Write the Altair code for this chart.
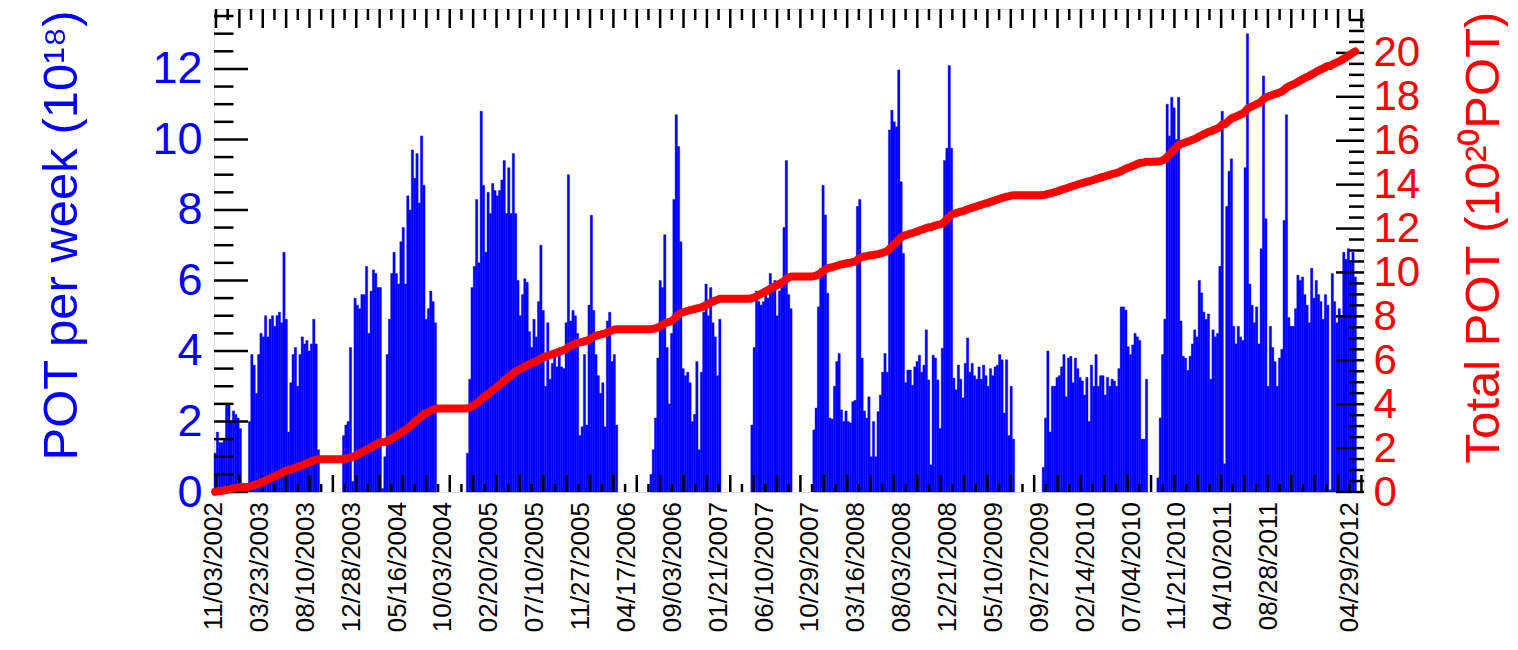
import altair as alt
import numpy as np
import pandas as pd

# ---------------- data ----------------
# x-axis tick labels: week index (from 11/03/2002) and the date text
label_weeks = [0, 20, 40, 60, 80, 100, 120, 140, 160, 180, 200, 220, 240,
               260, 280, 300, 320, 340, 360, 380, 400, 420, 440, 460, 495]
label_dates = ["11/03/2002", "03/23/2003", "08/10/2003", "12/28/2003",
               "05/16/2004", "10/03/2004", "02/20/2005", "07/10/2005",
               "11/27/2005", "04/17/2006", "09/03/2006", "01/21/2007",
               "06/10/2007", "10/29/2007", "03/16/2008", "08/03/2008",
               "12/21/2008", "05/10/2009", "09/27/2009", "02/14/2010",
               "07/04/2010", "11/21/2010", "04/10/2011", "08/28/2011",
               "04/29/2012"]

left_ticks = [0, 2, 4, 6, 8, 10, 12]
right_ticks = [0, 2, 4, 6, 8, 10, 12, 14, 16, 18, 20]

# weekly POT (1e18) for each running period: first week index + values
run_starts = [0, 15, 56, 75, 110, 190, 234, 261, 361, 411]
run01 = [1.1, 1.7, 1.4, 1.4, 1.5, 2.5, 2.5, 2.0, 2.3, 2.2, 2.1, 1.8]
run02 = [2.0, 3.9, 3.6, 2.8, 3.9, 4.5, 4.4, 5.0, 4.4, 4.9, 5.0, 4.7, 5.0, 5.1,
         4.8, 6.8, 4.9, 1.7, 3.1, 3.9, 4.1, 3.0, 3.9, 4.4, 4.2, 4.3, 4.0, 4.2,
         4.9, 4.2, 1.2]
run03 = [1.6, 1.9, 2.0, 4.1, 0.3, 5.5, 5.3, 5.2, 5.6, 5.6, 6.4, 4.5, 5.7, 6.3,
         6.2, 5.8, 5.8, 0.1, 1.0]
run04 = [3.9, 4.9, 6.2, 6.8, 6.2, 5.9, 7.1, 7.5, 5.9, 8.4, 8.0, 9.7, 8.9, 9.6,
         8.2, 10.1, 8.7, 4.9, 5.2, 5.7, 5.4, 4.8]
run05 = [1.1, 3.2, 5.8, 6.4, 8.3, 6.5, 10.8, 8.7, 6.8, 8.5,
         7.9, 8.75, 8.55, 8.4, 8.55, 8.85, 9.4, 7.9, 9.2, 7.9,
         9.6, 7.9, 6.0, 5.0, 5.6, 6.05, 5.95, 4.55, 4.1, 4.9,
         4.4, 5.4, 7.0, 5.15, 3.0, 4.8, 3.2, 3.65, 4.0, 3.55,
         3.9, 3.55, 3.5, 4.8, 9.0, 4.85, 5.15, 5.0, 4.5, 1.6,
         1.85, 3.9, 1.9, 5.3, 7.85, 5.15, 3.9, 3.3, 2.8, 3.1,
         1.85, 4.85, 5.1, 3.7, 3.9, 1.9]
run06 = [0.5, 1.2, 2.1, 3.8, 6.0, 5.8, 7.3, 4.1, 2.5, 4.5, 8.3, 10.7, 9.8,
         7.1, 3.5, 3.3, 3.4, 3.1, 2.0, 2.2, 3.7, 1.2, 3.4, 5.1, 5.9, 5.0,
         5.8, 4.8, 4.4, 3.3, 4.9]
run07 = [1.9, 4.1, 5.7, 5.4, 5.3, 5.4, 5.6, 5.5, 6.2, 5.9, 6.0, 5.0, 5.7,
         5.8, 7.5, 9.4, 5.6, 5.2]
run08 = [1.76, 2.38, 5.25, 6.35, 8.7, 7.86, 5.64, 2.1, 2.07, 3.0,
         3.7, 3.93, 2.33, 2.0, 2.3, 2.0, 1.96, 2.56, 2.6, 8.1,
         8.3, 3.8, 2.3, 2.1, 2.7, 1.0, 2.0, 1.0, 2.28, 2.75,
         3.4, 3.93, 3.4, 10.27, 10.83, 10.5, 10.36, 11.97, 8.8, 6.77,
         3.1, 3.46, 3.46, 3.03, 3.55, 3.7, 3.88, 3.4, 3.6, 4.6,
         3.18, 0.77, 3.88, 3.8, 3.18, 1.8, 4.08, 9.4, 9.75, 12.1,
         9.75, 3.23, 2.9, 3.6, 3.2, 2.67, 3.65, 4.37, 3.4, 3.65,
         3.3, 3.2, 3.55, 3.2, 3.6, 3.3, 3.0, 3.5, 3.3, 3.55,
         3.6, 3.9, 3.75, 2.24, 3.75, 1.6, 3.0, 1.5]
run09 = [0.7, 2.1, 4.0, 1.7, 3.0, 3.0, 3.25, 3.3, 3.55, 3.9,
         2.7, 3.8, 3.85, 3.1, 3.8, 3.5, 3.25, 3.15, 2.75, 3.25,
         2.0, 3.6, 3.0, 3.9, 3.0, 3.3, 3.3, 2.75, 3.25, 3.0,
         3.2, 3.15, 3.0, 3.5, 5.25, 5.25, 5.16, 4.12, 3.9, 4.17,
         4.5, 4.4, 4.3, 1.5, 1.5, 3.2]
run10 = [0.4, 2.1, 3.9, 4.9, 11.0, 10.1, 11.2, 10.9, 10.0, 11.2,
         4.85, 3.85, 3.8, 3.45, 3.85, 4.2, 4.6, 4.4, 6.0, 5.65,
         5.1, 4.9, 5.05, 3.2, 4.6, 4.4, 4.5, 6.4, 10.8, 0.8,
         8.1, 9.1, 9.45, 4.7, 4.2, 4.7, 4.4, 4.3, 9.2, 13.0,
         5.9, 5.3, 4.8, 5.25, 4.2, 6.9, 11.8, 7.75, 3.0, 4.7,
         4.1, 3.7, 3.0, 3.8, 4.05, 7.7, 10.7, 4.95, 4.7, 4.7,
         5.2, 6.15, 6.0, 6.1, 5.6, 5.3, 4.8, 6.35, 5.5, 6.0,
         5.6, 5.4, 4.9, 5.6, 5.3, 0.06, 6.2, 5.4, 4.8, 5.2,
         5.0, 6.8, 6.6, 6.9, 6.5, 6.8, 6.1]
runs = [run01, run02, run03, run04, run05, run06, run07, run08, run09, run10]

# ---------------- tables ----------------
rows = []
for start, vals in zip(run_starts, runs):
    for i, v in enumerate(vals):
        rows.append({"week": start + i, "week_end": start + i + 1,
                     "pot": v, "base": 0.0})
df_bars = pd.DataFrame(rows)

n_weeks = int(df_bars["week_end"].max())
weekly = np.zeros(n_weeks)
weekly[df_bars["week"].to_numpy()] = df_bars["pot"].to_numpy()
df_cum = pd.DataFrame({
    "xc": np.arange(n_weeks) + 0.5,
    "total": np.cumsum(weekly) / 100.0,   # 1e18 -> 1e20
})
df_labels = pd.DataFrame({"week": label_weeks, "label": label_dates})

# ---------------- styling ----------------
FONT = "Liberation Sans"
BLUE = "#0000ff"
RED = "#ff0000"
W, H = 1150, 483
X_MAX = 501.3
L_MAX = 13.7
R_MAX = 22.0

xscale = alt.Scale(domain=[0, X_MAX], nice=False, zero=False)
lscale = alt.Scale(domain=[0, L_MAX], nice=False, zero=False)
rscale = alt.Scale(domain=[0, R_MAX], nice=False, zero=False)

left_axis = alt.Axis(
    values=left_ticks, labelFont=FONT, labelFontSize=45, labelColor=BLUE,
    labelPadding=12, labelOverlap=False, labelFlush=False,
    ticks=False, domain=False, grid=False,
    title="POT per week (10¹⁸)", titleFont=FONT, titleFontSize=49,
    titleFontWeight="normal", titleColor=BLUE, titleAngle=270,
    titleX=-138, titleY=226, titleAlign="center", titleBaseline="alphabetic",
)

right_axis = alt.Axis(
    orient="right", values=right_ticks, labelFont=FONT, labelFontSize=42,
    labelColor=RED, labelPadding=9, labelOverlap=False, labelFlush=False,
    ticks=False, domain=False, grid=False,
    title="Total POT (10²⁰POT)", titleFont=FONT, titleFontSize=49,
    titleFontWeight="normal", titleColor=RED, titleAngle=270,
    titleX=134, titleY=228, titleAlign="center", titleBaseline="alphabetic",
)

bars = alt.Chart(df_bars).mark_rect(color=BLUE, stroke=BLUE, strokeWidth=0.4).encode(
    x=alt.X("week:Q", scale=xscale, axis=None),
    x2="week_end:Q",
    y=alt.Y("pot:Q", scale=lscale, axis=left_axis),
    y2="base:Q",
)

line = alt.Chart(df_cum).mark_line(color=RED, strokeWidth=8, strokeCap="round",
                                   strokeJoin="round").encode(
    x=alt.X("xc:Q", scale=xscale, axis=None),
    y=alt.Y("total:Q", scale=rscale, axis=right_axis),
)

# date labels under the x axis, rotated like the reference
xlabels = alt.Chart(df_labels).mark_text(
    angle=270, align="right", baseline="middle", font=FONT, fontSize=26,
    color="black",
).encode(
    x=alt.X("week:Q", scale=xscale, axis=None),
    y=alt.value(H + 10),
    text="label:N",
)

# inward ROOT-style ticks
left_minor = [v for v in np.arange(0, 13.51, 0.5) if v % 2 != 0]
right_minor = [v for v in np.arange(0, 21.51, 0.5) if v % 2 != 0]
X_TICK_STEP, X_TICK_OFF = 5.095, 0.87
xt = np.arange(X_TICK_OFF, X_MAX, X_TICK_STEP)
x_long = [float(t) for i, t in enumerate(xt) if i % 2 == 0]
x_short = [float(t) for i, t in enumerate(xt) if i % 2 == 1]

TICK = dict(color="black", strokeWidth=2.5)


def yticks(vals, scale, x0, x1):
    return alt.Chart(pd.DataFrame({"v": vals})).mark_rule(**TICK).encode(
        y=alt.Y("v:Q", scale=scale, axis=None),
        x=alt.value(x0), x2=alt.value(x1))


def xticks(vals, y0, y1):
    return alt.Chart(pd.DataFrame({"t": vals})).mark_rule(**TICK).encode(
        x=alt.X("t:Q", scale=xscale, axis=None),
        y=alt.value(y0), y2=alt.value(y1))


tick_layers = [
    yticks(left_ticks, lscale, 0, 34),
    yticks(left_minor, lscale, 0, 19.5),
    yticks(right_ticks, rscale, W, W - 28),
    yticks(right_minor, rscale, W, W - 15),
    xticks(x_long, 0, 19),
    xticks(x_short, 0, 11),
    xticks(x_long, H, H - 17),
    xticks(x_short, H, H - 8),
]

chart = alt.layer(bars, *tick_layers, line, xlabels).resolve_scale(
    y="independent"
).properties(
    width=W, height=H,
    padding={"left": 206, "top": 1, "right": 144, "bottom": 140},
    autosize=alt.AutoSizeParams(type="none"),
).configure_view(
    stroke="black", strokeWidth=3
).configure(background="white")

chart.save("out.html", embed_options={"renderer": "svg", "actions": False})
